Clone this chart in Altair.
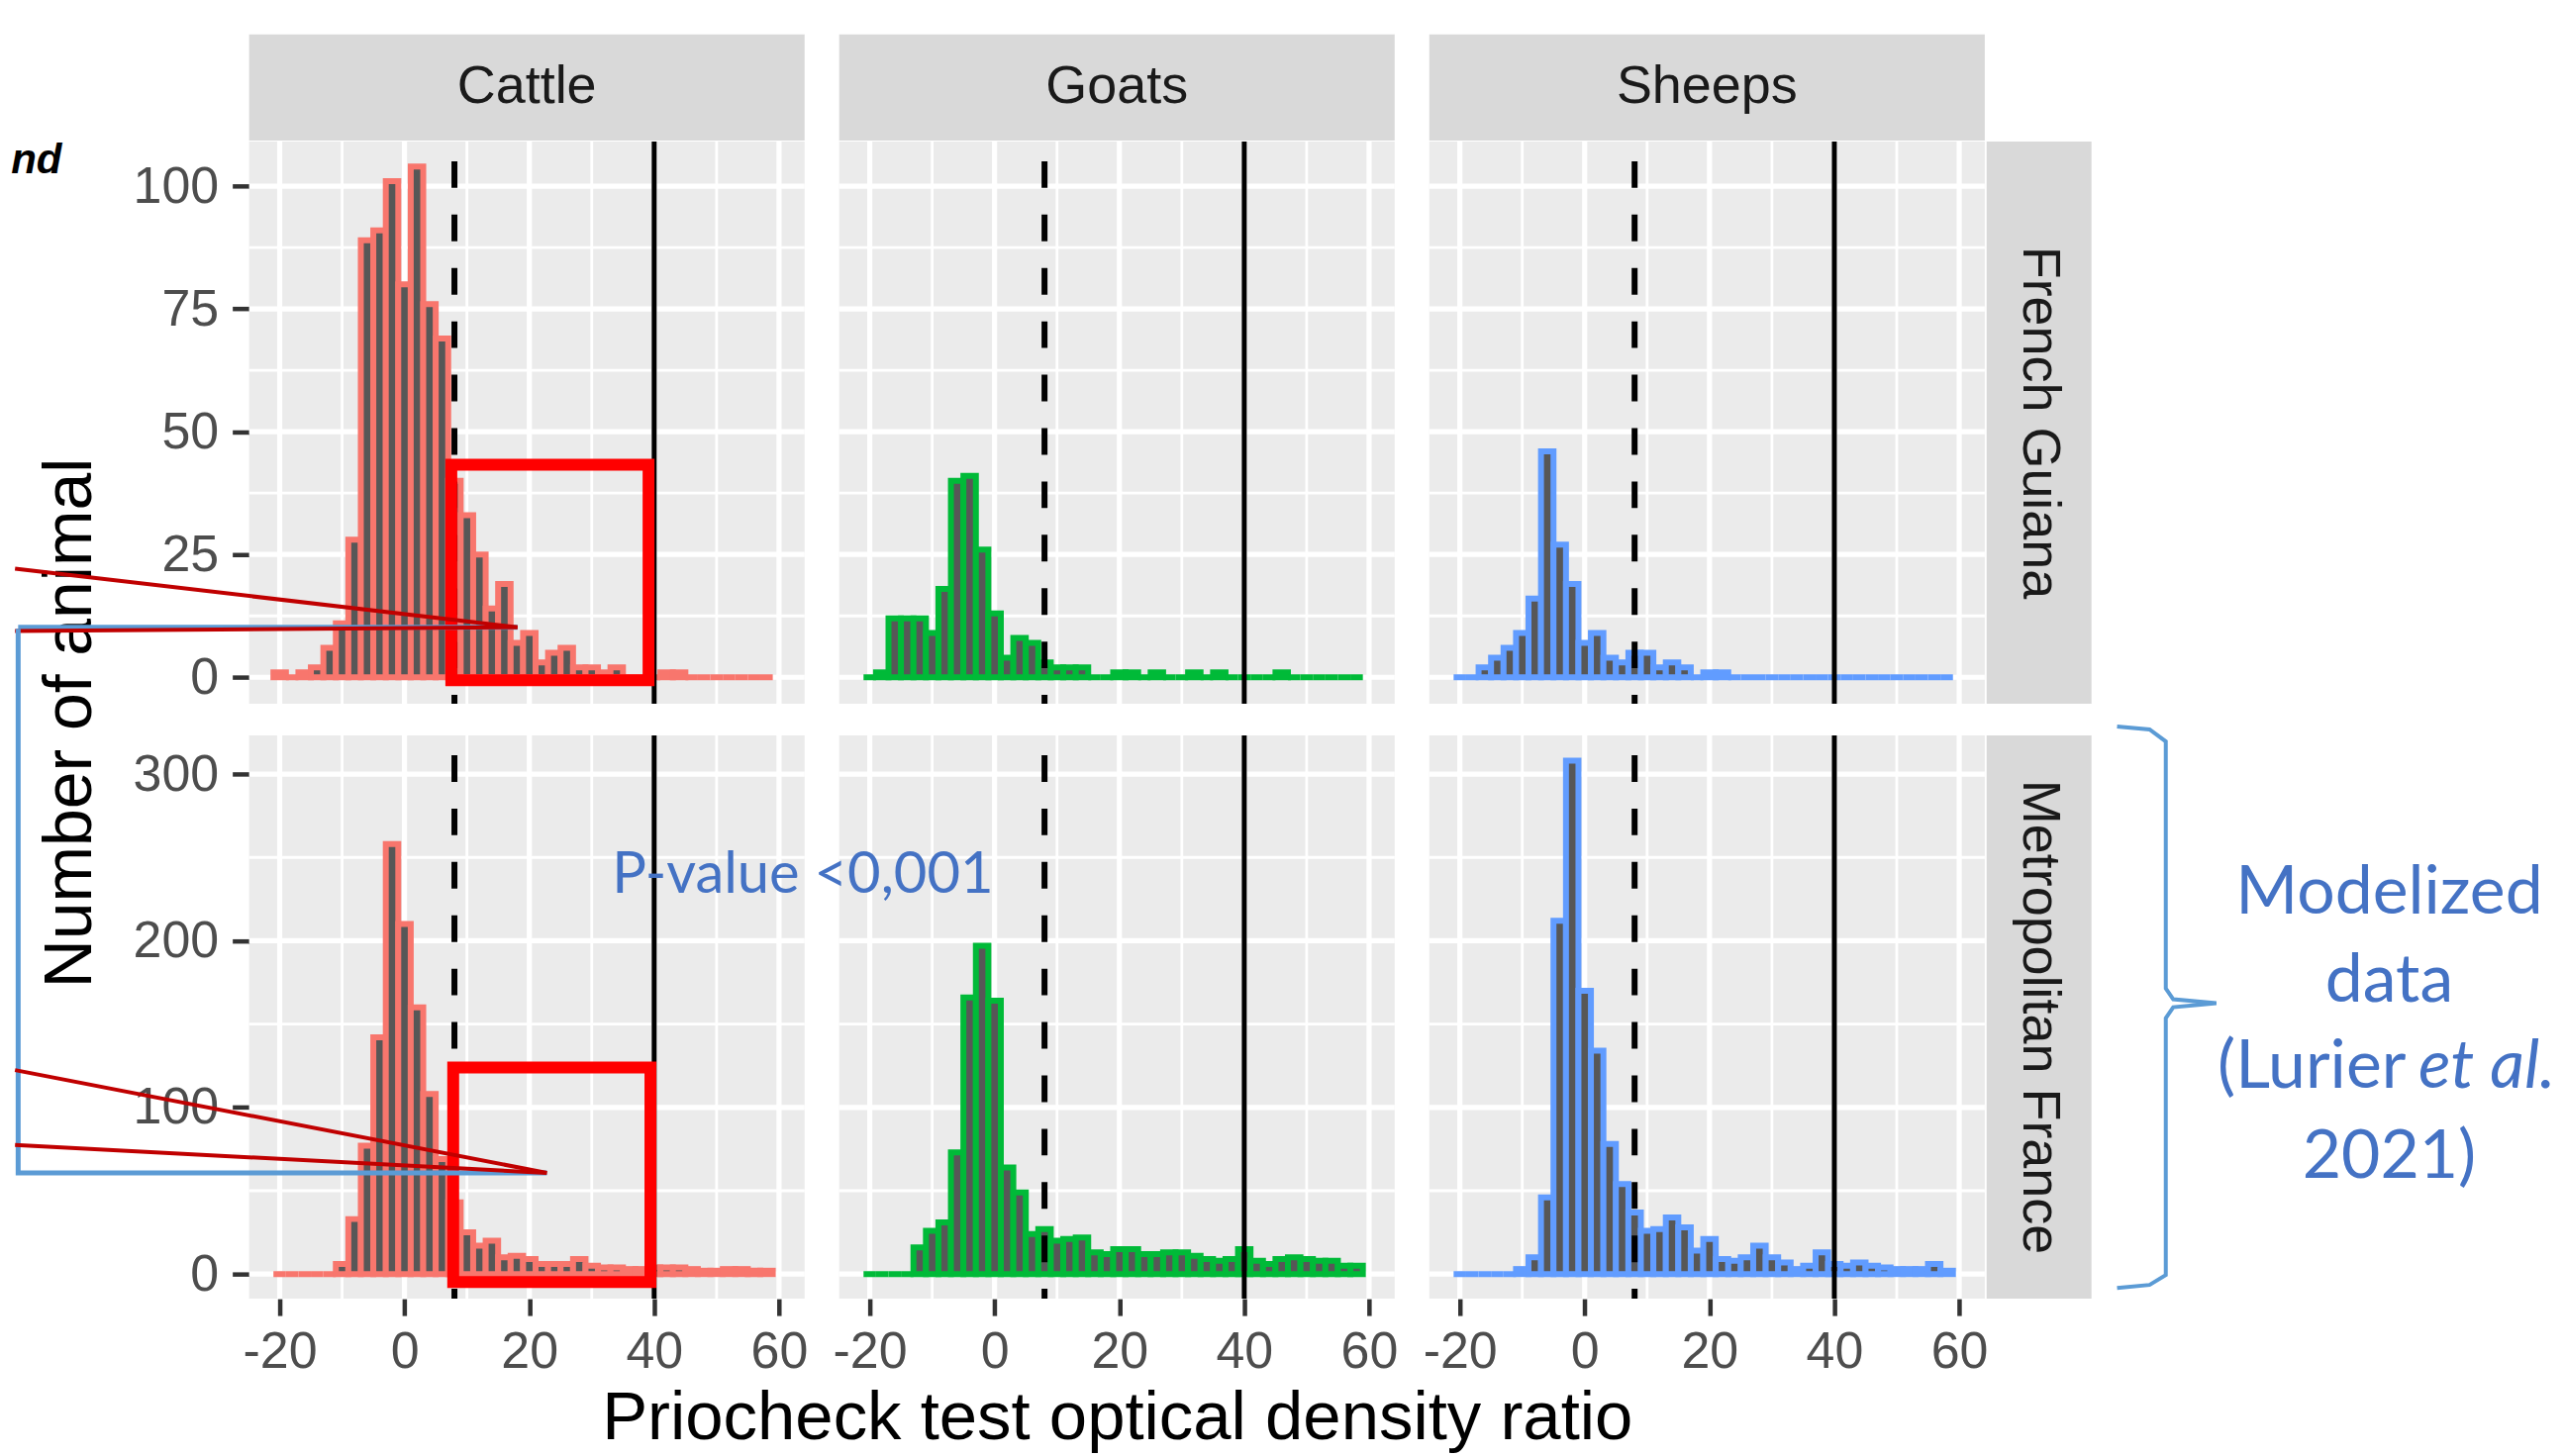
import altair as alt
import pandas as pd

# ---------------- data ----------------
bin_centers = list(range(-20, 60, 2))
bin_half = 1

animals = ["Cattle", "Goats", "Sheeps"]
regions = ["French Guiana", "Metropolitan France"]

counts_cattle_fg = [1, 0, 1, 2, 6, 11, 28, 89, 91, 101, 80, 104, 76, 69, 40, 33, 25, 14, 19, 7,
                    9, 3, 5, 6, 2, 2, 1, 2, 0, 0, 0, 1, 1, 0, 0, 0, 0, 0, 0, 0]
counts_goats_fg = [0, 1, 12, 12, 12, 9, 18, 40, 41, 26, 13, 4, 8, 7, 3, 2, 2, 2, 0, 0,
                   1, 1, 0, 1, 0, 0, 1, 0, 1, 0, 0, 0, 0, 1, 0, 0, 0, 0, 0, 0]
counts_sheeps_fg = [0, 0, 2, 4, 6, 9, 16, 46, 27, 19, 7, 9, 4, 3, 5, 5, 2, 3, 2, 0,
                    1, 1, 0, 0, 0, 0, 0, 0, 0, 0, 0, 0, 0, 0, 0, 0, 0, 0, 0, 0]
counts_cattle_mf = [0, 0, 0, 0, 0, 6, 33, 77, 142, 258, 210, 160, 108, 69, 43, 25, 17, 20, 10, 11,
                    9, 6, 6, 6, 9, 5, 4, 4, 3, 3, 4, 4, 4, 3, 2, 2, 3, 3, 2, 2]
counts_goats_mf = [0, 0, 0, 0, 16, 26, 31, 73, 166, 197, 164, 64, 49, 24, 27, 20, 21, 22, 13, 12,
                   15, 15, 12, 12, 13, 13, 11, 9, 8, 9, 15, 8, 6, 9, 10, 9, 8, 8, 5, 5]
counts_sheeps_mf = [0, 0, 0, 0, 0, 3, 10, 46, 212, 308, 170, 134, 78, 54, 37, 26, 27, 34, 28, 14,
                    21, 9, 8, 10, 17, 10, 7, 3, 5, 13, 6, 5, 7, 5, 4, 3, 3, 3, 6, 2]

counts = {
    ("Cattle", "French Guiana"): counts_cattle_fg,
    ("Goats", "French Guiana"): counts_goats_fg,
    ("Sheeps", "French Guiana"): counts_sheeps_fg,
    ("Cattle", "Metropolitan France"): counts_cattle_mf,
    ("Goats", "Metropolitan France"): counts_goats_mf,
    ("Sheeps", "Metropolitan France"): counts_sheeps_mf,
}

cutoff_doubtful = 8
cutoff_positive = 40

x_major = [-20, 0, 20, 40, 60]
x_minor = [-10, 10, 30, 50]
y_major = [[0, 25, 50, 75, 100], [0, 100, 200, 300]]
y_minor = [[12.5, 37.5, 62.5, 87.5], [50, 150, 250]]

# annotation geometry, in the data units of the panel that carries it
red_box = [dict(x=7.5, x2=39.1, y=-0.6, y2=43.3), dict(x=7.8, x2=39.4, y=-4.8, y2=124.0)]
red_leaders = [
    [dict(x=-62.4, y=22.1, x2=18.1, y2=10.2), dict(x=-62.4, y=9.4, x2=18.1, y2=10.2)],
    [dict(x=-62.4, y=122.4, x2=22.8, y2=60.7), dict(x=-62.4, y=77.5, x2=22.8, y2=60.7)],
]
blue_top = [dict(x=-61.9, y=10.2, x2=18.1, y2=10.2)]
blue_path = [dict(i=0, x=-61.9, y=387.2), dict(i=1, x=-61.9, y=60.7), dict(i=2, x=22.8, y=60.7)]
brace_x = [85.3, 90.5, 93.1, 93.1, 94.3, 101.2, 94.3, 93.1, 93.1, 90.5, 85.3]
brace_y = [328.5, 326.8, 319.6, 171.4, 164.9, 162.5, 160.1, 153.6, -0.6, -6.5, -8.3]

# ---------------- style / layout ----------------
FONT = "Liberation Sans"
AFONT = "Lato"
colors = {"Cattle": "#F8766D", "Goats": "#00BA38", "Sheeps": "#619CFF"}
BAR_FILL = "#575757"
STRIP_FILL = "#D9D9D9"
BLUE_TXT = "#4472C4"
BLUE_LINE = "#5B9BD5"
RED_LINE = "#C00000"

PW = 562
PH = [569, 570]
X_DOM = [-24.9, 64.1]
Y_DOM = [[-5.4, 109.1], [-14.8, 323.2]]
TOP_STRIP_Y = [109.3, 130.9]          # strip band above the top row (top-row y units)
RIGHT_STRIP_X = [64.4, 81.2]          # strip band right of the Sheeps column (x units)

HYPHEN_LABEL = "datum.value < 0 ? '-' + abs(datum.value) : '' + datum.value"


def axis_common():
    return dict(grid=False, domain=False, ticks=True, tickSize=17, tickWidth=4.5,
                tickColor="#333333", labelFontSize=52, labelColor="#4D4D4D",
                labelFont=FONT, labelExpr=HYPHEN_LABEL)


def panel(animal, region, r, c):
    xs = alt.Scale(domain=X_DOM, nice=False, zero=False)
    ys = alt.Scale(domain=Y_DOM[r], nice=False, zero=False)

    if r == 1:
        if c == 1:
            xaxis = alt.Axis(values=x_major, labelPadding=12, title="Priocheck test optical density ratio",
                             titleFontSize=69, titleFont=FONT, titleColor="#000000",
                             titleFontWeight="normal", titleY=142, titleBaseline="alphabetic",
                             **axis_common())
        else:
            xaxis = alt.Axis(values=x_major, labelPadding=12, title="", **axis_common())
    else:
        xaxis = None

    if c == 0:
        if r == 0:
            yaxis = alt.Axis(values=y_major[r], labelPadding=14, title="Number of animal",
                             titleFontSize=68, titleFont=FONT, titleColor="#000000",
                             titleFontWeight="normal", titleX=-180, titleY=588,
                             titleAngle=270, titleBaseline="middle", titleAlign="center",
                             **axis_common())
        else:
            yaxis = alt.Axis(values=y_major[r], labelPadding=14, title="", **axis_common())
    else:
        yaxis = None

    X = lambda f: alt.X(f, scale=xs, axis=xaxis)
    Y = lambda f: alt.Y(f, scale=ys, axis=yaxis)

    df = pd.DataFrame({
        "x0": [b - bin_half for b in bin_centers],
        "x1": [b + bin_half for b in bin_centers],
        "n": counts[(animal, region)],
        "base": [0] * len(bin_centers),
    })

    def vgrid(vals, w):
        return alt.Chart(pd.DataFrame({"v": vals})).mark_rule(color="white", strokeWidth=w).encode(x=X("v:Q"))

    def hgrid(vals, w):
        return alt.Chart(pd.DataFrame({"v": vals})).mark_rule(color="white", strokeWidth=w).encode(y=Y("v:Q"))

    layers = [
        hgrid(y_minor[r], 2.8),
        vgrid(x_minor, 2.8),
        hgrid(y_major[r], 5.2),
        vgrid(x_major, 5.2),
    ]

    bars = alt.Chart(df).mark_bar(fill=BAR_FILL, stroke=colors[animal], strokeWidth=6).encode(
        x=X("x0:Q"), x2="x1:Q", y=Y("n:Q"), y2="base:Q")
    layers.append(bars)

    dashed = alt.Chart(pd.DataFrame({"v": [cutoff_doubtful]})).mark_rule(
        color="black", strokeWidth=6, strokeDash=[27, 27], strokeDashOffset=34).encode(x=X("v:Q"))
    solid = alt.Chart(pd.DataFrame({"v": [cutoff_positive]})).mark_rule(
        color="black", strokeWidth=5).encode(x=X("v:Q"))
    layers += [dashed, solid]

    # facet strips (column strip above top row, row strip right of last column)
    if r == 0:
        sdf = pd.DataFrame({"x": [X_DOM[0]], "x2": [X_DOM[1]], "y": [TOP_STRIP_Y[0]], "y2": [TOP_STRIP_Y[1]],
                            "tx": [(X_DOM[0] + X_DOM[1]) / 2], "ty": [(TOP_STRIP_Y[0] + TOP_STRIP_Y[1]) / 2],
                            "lab": [animal]})
        layers.append(alt.Chart(sdf).mark_rect(fill=STRIP_FILL, clip=False).encode(
            x=X("x:Q"), x2="x2:Q", y=Y("y:Q"), y2="y2:Q"))
        layers.append(alt.Chart(sdf).mark_text(font=FONT, fontSize=54, color="#1A1A1A", align="center",
                                               baseline="middle", clip=False).encode(
            x=X("tx:Q"), y=Y("ty:Q"), text="lab:N"))
    if c == 2:
        sdf = pd.DataFrame({"x": [RIGHT_STRIP_X[0]], "x2": [RIGHT_STRIP_X[1]], "y": [Y_DOM[r][0]],
                            "y2": [Y_DOM[r][1]], "tx": [(RIGHT_STRIP_X[0] + RIGHT_STRIP_X[1]) / 2],
                            "ty": [(Y_DOM[r][0] + Y_DOM[r][1]) / 2], "lab": [region]})
        layers.append(alt.Chart(sdf).mark_rect(fill=STRIP_FILL, clip=False).encode(
            x=X("x:Q"), x2="x2:Q", y=Y("y:Q"), y2="y2:Q"))
        layers.append(alt.Chart(sdf).mark_text(font=FONT, fontSize=54, color="#1A1A1A", align="center",
                                               baseline="middle", angle=90, clip=False).encode(
            x=X("tx:Q"), y=Y("ty:Q"), text="lab:N"))

    if animal == "Cattle":
        box = alt.Chart(pd.DataFrame([red_box[r]])).mark_rect(
            filled=False, stroke="#FF0000", strokeWidth=12, clip=False).encode(
            x=X("x:Q"), x2="x2:Q", y=Y("y:Q"), y2="y2:Q")
        leaders = alt.Chart(pd.DataFrame(red_leaders[r])).mark_rule(
            color=RED_LINE, strokeWidth=4, clip=False).encode(
            x=X("x:Q"), x2="x2:Q", y=Y("y:Q"), y2="y2:Q")
        layers += [box]
        if r == 0:
            blue = alt.Chart(pd.DataFrame(blue_top)).mark_rule(
                color=BLUE_LINE, strokeWidth=5, clip=False).encode(
                x=X("x:Q"), x2="x2:Q", y=Y("y:Q"), y2="y2:Q")
            nd = alt.Chart(pd.DataFrame({"x": [-54.9], "y": [102.6], "t": ["nd"]})).mark_text(
                font=FONT, fontSize=42, fontWeight="bold", fontStyle="italic", color="black",
                align="right", baseline="alphabetic", clip=False).encode(
                x=X("x:Q"), y=Y("y:Q"), text="t:N")
            layers += [blue, leaders, nd]
        else:
            blue = alt.Chart(pd.DataFrame(blue_path)).mark_line(
                color=BLUE_LINE, strokeWidth=5, clip=False).encode(
                x=X("x:Q"), y=Y("y:Q"), order="i:Q")
            layers += [blue, leaders]

    if animal == "Goats" and r == 1:
        ptxt = alt.Chart(pd.DataFrame({"x": [-61.3], "y": [229.0], "t": ["P-value <0,001"]})).mark_text(
            font=AFONT, fontSize=58, color=BLUE_TXT, align="left", baseline="alphabetic", clip=False).encode(
            x=X("x:Q"), y=Y("y:Q"), text="t:N")
        layers.append(ptxt)

    if animal == "Sheeps" and r == 1:
        bdf = pd.DataFrame({"i": list(range(len(brace_x))), "x": brace_x, "y": brace_y})
        brace = alt.Chart(bdf).mark_line(color=BLUE_LINE, strokeWidth=4, clip=False).encode(
            x=X("x:Q"), y=Y("y:Q"), order="i:Q")
        tdf = pd.DataFrame({
            "x": [128.9, 128.9, 128.9],
            "y": [216.5, 163.7, 57.5],
            "t": ["Modelized", "data", "2021)"],
        })
        txt_c = alt.Chart(tdf).mark_text(
            font=AFONT, fontSize=68, color=BLUE_TXT, align="center", baseline="alphabetic", clip=False).encode(
            x=X("x:Q"), y=Y("y:Q"), text="t:N")
        txt_r = alt.Chart(pd.DataFrame({"x": [131.6], "y": [111.5], "t": ["(Lurier"]})).mark_text(
            font=AFONT, fontSize=68, color=BLUE_TXT, align="right", baseline="alphabetic", clip=False).encode(
            x=X("x:Q"), y=Y("y:Q"), text="t:N")
        txt_i = alt.Chart(pd.DataFrame({"x": [133.6], "y": [111.5], "t": ["et al."]})).mark_text(
            font=AFONT, fontSize=68, fontStyle="italic", color=BLUE_TXT, align="left",
            baseline="alphabetic", clip=False).encode(
            x=X("x:Q"), y=Y("y:Q"), text="t:N")
        layers += [brace, txt_c, txt_r, txt_i]

    return alt.layer(*layers).properties(width=PW, height=PH[r])


cells = [panel(a, reg, r, c) for r, reg in enumerate(regions) for c, a in enumerate(animals)]

chart = alt.concat(*cells, columns=3, spacing={"row": 32, "column": 35}, bounds="flush").properties(
    padding={"left": 0, "top": 25, "right": 0, "bottom": 0}
).configure(font=FONT).configure_view(fill="#EBEBEB", stroke=None)

chart.save("out.html", embed_options={"renderer": "svg", "actions": False})
